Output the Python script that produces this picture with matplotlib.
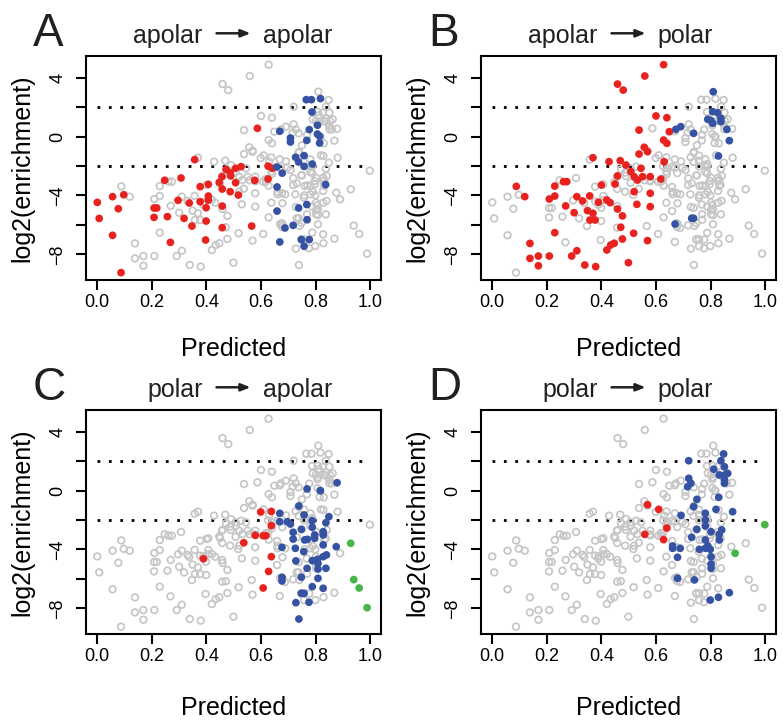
import matplotlib
matplotlib.use("Agg")
import matplotlib.pyplot as plt
import numpy as np

plt.rcParams['font.family'] = ['Liberation Sans', 'DejaVu Sans']

# ---------------- data (Predicted, log2(enrichment)) ----------------
A_red_x = [0.0, 0.007, 0.056, 0.077, 0.097, 0.056, 0.087, 0.208, 0.218, 0.208, 0.257, 0.247,
           0.268, 0.307, 0.296, 0.318, 0.337, 0.347, 0.357, 0.377, 0.377, 0.399, 0.399, 0.407,
           0.407, 0.407, 0.397, 0.447, 0.457, 0.458, 0.458, 0.458, 0.472, 0.487, 0.487, 0.489,
           0.507, 0.507, 0.517, 0.527, 0.566, 0.577, 0.587, 0.626, 0.626, 0.642]
A_red_y = [-4.47, -5.56, -4.08, -4.90, -3.95, -6.71, -9.25, -4.85, -4.85, -5.49, -5.44, -2.97,
           -7.19, -2.81, -4.33, -5.56, -4.51, -6.08, -1.56, -3.40, -4.42, -4.83, -5.74, -3.24,
           -4.04, -4.31, -7.03, -3.11, -2.72, -3.56, -4.72, -6.19, -2.22, -2.45, -3.74, -2.67,
           -3.13, -2.15, -3.97, -2.04, -6.08, -2.97, 0.57, -2.00, -2.88, -2.15]
A_blue_x = [0.766, 0.785, 0.818, 0.787, 0.669, 0.708, 0.708, 0.777, 0.807, 0.807, 0.815, 0.815,
            0.768, 0.727, 0.738, 0.758, 0.758, 0.788, 0.678, 0.659, 0.837, 0.659, 0.738, 0.768,
            0.769, 0.718, 0.688, 0.669, 0.748, 0.777, 0.758, 0.658]
A_blue_y = [2.52, 2.52, 2.59, 1.68, 0.37, -0.09, -0.36, 0.48, 0.78, 0.18, 0.03, -0.43,
            -0.25, -1.40, -1.72, -1.29, -2.02, -1.86, -2.48, -3.42, -3.26, -5.06, -4.85, -4.62,
            -5.65, -6.03, -6.21, -7.16, -7.00, -7.00, -7.45, -2.06]
A_green_x = []
A_green_y = []

B_red_x = [0.088, 0.119, 0.138, 0.138, 0.169, 0.169, 0.209, 0.209, 0.229, 0.229, 0.229, 0.261,
           0.273, 0.269, 0.300, 0.310, 0.331, 0.357, 0.349, 0.369, 0.358, 0.377, 0.369, 0.291,
           0.310, 0.339, 0.379, 0.400, 0.389, 0.420, 0.432, 0.428, 0.469, 0.459, 0.480, 0.450,
           0.459, 0.459, 0.477, 0.471, 0.434, 0.447, 0.420, 0.477, 0.499, 0.490, 0.508, 0.520,
           0.532, 0.545, 0.551, 0.520, 0.530, 0.518, 0.538, 0.557, 0.569, 0.538, 0.559, 0.579,
           0.579, 0.569, 0.600, 0.640, 0.649, 0.628, 0.640, 0.630, 0.618, 0.628, 0.579]
B_red_y = [-3.38, -4.08, -7.26, -8.28, -8.12, -8.78, -8.12, -4.24, -4.04, -3.36, -6.53, -3.06,
           -3.06, -4.71, -5.17, -4.08, -4.37, -4.03, -5.03, -5.21, -5.67, -5.67, -1.43, -8.12,
           -7.76, -8.73, -8.84, -3.29, -4.46, -4.31, -4.49, -1.70, -1.63, 3.58, 3.17, -3.22,
           -2.67, -4.92, -5.39, -6.16, -7.37, -7.25, -7.71, -6.96, -8.57, -1.93, -2.38, -2.72,
           -2.95, -2.15, -2.72, -3.74, -4.60, -6.57, -1.18, -0.72, -1.02, 0.45, 4.13, -3.85,
           -4.76, -7.07, 1.41, 1.29, 0.34, -0.23, -0.45, -1.70, -2.88, 4.90, -2.72]
B_blue_x = [0.810, 0.808, 0.826, 0.790, 0.802, 0.808, 0.838, 0.838, 0.860, 0.869, 0.829, 0.673,
            0.691, 0.738, 0.670, 0.731, 0.738]
B_blue_y = [3.06, 1.70, 1.63, 1.18, 1.09, 0.91, 1.25, 1.02, 0.50, -0.27, -1.31, 0.50,
            0.68, 0.23, -5.94, -5.55, -5.55]
B_green_x = []
B_green_y = []

C_red_x = [0.389, 0.537, 0.579, 0.608, 0.618, 0.599, 0.638, 0.638, 0.638, 0.628, 0.608]
C_red_y = [-4.63, -3.54, -3.04, -3.06, -3.06, -1.45, -1.41, -2.38, -4.49, -5.49, -6.62]
C_blue_x = [0.879, 0.769, 0.818, 0.739, 0.669, 0.758, 0.669, 0.697, 0.708, 0.788, 0.849, 0.838,
            0.718, 0.718, 0.748, 0.788, 0.760, 0.770, 0.797, 0.797, 0.828, 0.828, 0.828, 0.677,
            0.726, 0.757, 0.876, 0.840, 0.828, 0.788, 0.807, 0.809, 0.728, 0.809, 0.769, 0.838,
            0.748, 0.677, 0.677, 0.809, 0.788, 0.828, 0.748, 0.758, 0.728, 0.776, 0.739]
C_blue_y = [0.54, 0.12, 0.00, -1.04, -1.54, -1.65, -2.11, -2.11, -2.27, -2.04, -1.77, -2.18,
            -2.83, -3.29, -2.63, -2.49, -3.35, -3.31, -3.01, -3.24, -2.79, -3.01, -3.69, -3.85,
            -3.92, -4.15, -3.81, -4.37, -4.49, -4.76, -4.67, -4.94, -4.78, -5.33, -5.28, -5.28,
            -5.89, -5.89, -6.14, -5.96, -6.53, -6.64, -6.98, -6.98, -7.62, -7.59, -8.73]
C_green_x = [0.929, 0.940, 0.960, 0.989]
C_green_y = [-3.58, -6.05, -6.62, -7.96]

D_red_x = [0.569, 0.610, 0.640, 0.559, 0.628]
D_red_y = [-0.95, -1.27, -2.54, -2.97, -3.33]
D_blue_x = [0.720, 0.848, 0.838, 0.812, 0.851, 0.832, 0.853, 0.863, 0.851, 0.851, 0.720, 0.728,
            0.716, 0.750, 0.738, 0.830, 0.820, 0.881, 0.781, 0.692, 0.781, 0.781, 0.750, 0.802,
            0.841, 0.832, 0.832, 0.731, 0.661, 0.661, 0.689, 0.679, 0.759, 0.781, 0.790, 0.799,
            0.781, 0.802, 0.802, 0.802, 0.741, 0.679, 0.799, 0.829, 0.869]
D_blue_y = [2.04, 2.50, 2.04, 1.46, 1.63, 1.07, 1.07, 1.18, 0.73, 0.50, 0.84, 0.50,
            0.27, -0.59, -1.09, -0.45, -1.27, -1.43, -1.54, -1.68, -1.99, -2.40, -2.63, -2.79,
            -2.67, -2.97, -3.35, -3.17, -3.76, -3.92, -3.92, -4.53, -3.99, -3.92, -3.76, -3.99,
            -3.35, -4.49, -4.99, -5.28, -6.07, -5.96, -7.44, -7.25, -6.94]
D_green_x = [0.890, 0.999]
D_green_y = [-4.26, -2.31]

panel_letters = ['A', 'B', 'C', 'D']
title_from = ['apolar', 'apolar', 'polar', 'polar']
title_to = ['apolar', 'polar', 'apolar', 'polar']
x_ticks = [0.0, 0.2, 0.4, 0.6, 0.8, 1.0]
y_ticks = [-8, -6, -4, -2, 0, 2, 4]
y_ticklabels = ['\u22128', '', '\u22124', '', '0', '', '4']
thresholds = [2, -2]

groups = [
    (A_red_x, A_red_y, A_blue_x, A_blue_y, A_green_x, A_green_y),
    (B_red_x, B_red_y, B_blue_x, B_blue_y, B_green_x, B_green_y),
    (C_red_x, C_red_y, C_blue_x, C_blue_y, C_green_x, C_green_y),
    (D_red_x, D_red_y, D_blue_x, D_blue_y, D_green_x, D_green_y),
]

# ---------------- styling ----------------
W, H = 783, 723
GRAY = '#c6c6c6'
RED = '#e8231f'
BLUE = '#3552a3'
GREEN = '#48b548'
TXT = '#231f20'

fig = plt.figure(figsize=(W / 100, H / 100), dpi=100)

ax_w, ax_h = 295, 224
lefts = [86, 481, 86, 481]
tops = [56, 56, 410, 410]

for i in range(4):
    L, T = lefts[i], tops[i]
    ax = fig.add_axes([L / W, 1 - (T + ax_h) / H, ax_w / W, ax_h / H])
    # gray: all points from the other groups
    gx, gy = [], []
    for j in range(4):
        if j == i:
            continue
        g = groups[j]
        gx += list(g[0]) + list(g[2]) + list(g[4])
        gy += list(g[1]) + list(g[3]) + list(g[5])
    ax.scatter(gx, gy, s=23, facecolors='none', edgecolors=GRAY, linewidths=1.25, zorder=2)
    g = groups[i]
    for xs, ys, c in [(g[0], g[1], RED), (g[2], g[3], BLUE), (g[4], g[5], GREEN)]:
        if len(xs):
            ax.scatter(xs, ys, s=31, color=c, edgecolors='none', zorder=3)
    for t in thresholds:
        ax.plot([0, 1.0], [t, t], color='black', lw=2.0, linestyle=(0, (1, 3.1)), zorder=1)

    ax.set_xlim(-0.0414, 1.040)
    ax.set_ylim(-9.75, 5.49)
    ax.set_xticks(x_ticks)
    ax.set_xticklabels(['%.1f' % v for v in x_ticks])
    ax.set_yticks(y_ticks)
    ax.set_yticklabels(y_ticklabels, rotation=90, va='center')
    for s in ax.spines.values():
        s.set_linewidth(1.5)
    ax.tick_params(axis='both', length=7, width=1.5, labelsize=13, colors='black')
    ax.tick_params(axis='x', pad=3)
    ax.tick_params(axis='y', pad=7)

    # title with arrow
    cx = 0.5
    dx_arrow = 17 / ax_w
    ax.text(cx - 31 / ax_w, 1 + 13.3 / ax_h, title_from[i], transform=ax.transAxes,
            ha='right', va='baseline', fontsize=18, color=TXT)
    ax.text(cx + 29 / ax_w, 1 + 13.3 / ax_h, title_to[i], transform=ax.transAxes,
            ha='left', va='baseline', fontsize=18, color=TXT)
    ax.annotate('', xy=(cx + dx_arrow, 1 + 22.7 / ax_h), xytext=(cx - dx_arrow, 1 + 22.7 / ax_h),
                xycoords='axes fraction', textcoords='axes fraction',
                arrowprops=dict(arrowstyle='-|>,head_length=0.55,head_width=0.22',
                                lw=1.8, color=TXT, shrinkA=0, shrinkB=0),
                annotation_clip=False)

    # axis labels
    fig.text((L - 64) / W, 1 - (T + ax_h / 2) / H, 'log2(enrichment)', rotation=90,
             ha='center', va='center', fontsize=18, color='black')
    xl_off = 69 if i < 2 else 74
    fig.text((L + ax_w / 2) / W, 1 - (T + ax_h + xl_off) / H, 'Predicted',
             ha='center', va='center', fontsize=18, color='black')

    # panel letter
    fig.text((L - 53) / W, 1 - (T - 10) / H, panel_letters[i], ha='left', va='baseline',
             fontsize=33, color=TXT)

fig.savefig('out.png', dpi=100)
